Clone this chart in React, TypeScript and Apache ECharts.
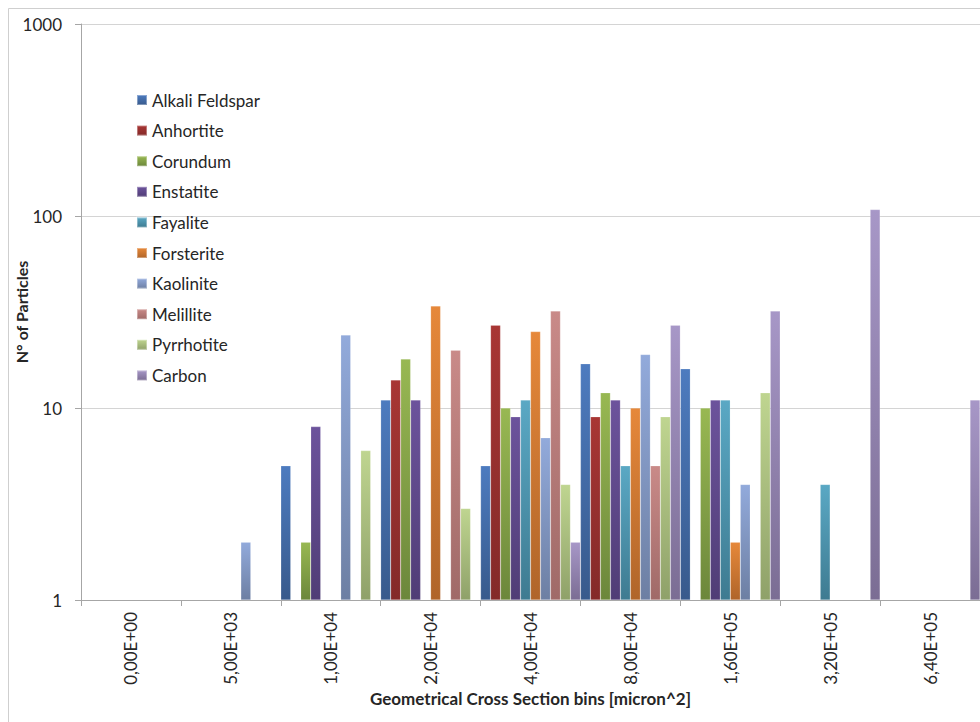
import React, { useEffect, useRef } from "react";
import * as echarts from "echarts";

// Bin labels (geometrical cross section, micron^2)
const categories = [
  "0,00E+00",
  "5,00E+03",
  "1,00E+04",
  "2,00E+04",
  "4,00E+04",
  "8,00E+04",
  "1,60E+05",
  "3,20E+05",
  "6,40E+05",
];

// Particle counts per bin (null = no particles in that bin)
const alkaliFeldspar = [null, null, 5, 11, 5, 17, 16, null, null];
const anhortite = [null, null, null, 14, 27, 9, null, null, null];
const corundum = [null, null, 2, 18, 10, 12, 10, null, null];
const enstatite = [null, null, 8, 11, 9, 11, 11, null, null];
const fayalite = [null, null, null, null, 11, 5, 11, 4, null];
const forsterite = [null, null, null, 34, 25, 10, 2, null, null];
const kaolinite = [null, 2, 24, null, 7, 19, 4, null, null];
const melillite = [null, null, null, 20, 32, 5, null, null, null];
const pyrrhotite = [null, null, 6, 3, 4, 9, 12, null, null];
const carbon = [null, null, null, null, 2, 27, 32, 108, 11];

const yTicks = [1, 10, 100, 1000];

const seriesDefs: { name: string; data: (number | null)[]; top: string; bottom: string }[] = [
  { name: "Alkali Feldspar", data: alkaliFeldspar, top: "#4d7bbf", bottom: "#385a8c" },
  { name: "Anhortite", data: anhortite, top: "#a83634", bottom: "#842a29" },
  { name: "Corundum", data: corundum, top: "#98b852", bottom: "#6c873b" },
  { name: "Enstatite", data: enstatite, top: "#6c539c", bottom: "#503d76" },
  { name: "Fayalite", data: fayalite, top: "#5aa8c4", bottom: "#3e7b91" },
  { name: "Forsterite", data: forsterite, top: "#e6883a", bottom: "#b0652a" },
  { name: "Kaolinite", data: kaolinite, top: "#92aadb", bottom: "#6d7fa3" },
  { name: "Melillite", data: melillite, top: "#c98a88", bottom: "#a06a68" },
  { name: "Pyrrhotite", data: pyrrhotite, top: "#bfd590", bottom: "#8fa169" },
  { name: "Carbon", data: carbon, top: "#a797c7", bottom: "#7b6d94" },
];

const FONT = "Lato, 'Open Sans', sans-serif";
const TEXT = "#262626";

export default function App() {
  const ref = useRef<HTMLDivElement>(null);

  useEffect(() => {
    if (!ref.current) return;
    const chart = echarts.init(ref.current, undefined, { renderer: "svg" });

    const series = seriesDefs.map((s) => ({
      name: s.name,
      type: "bar" as const,
      data: s.data.map((v) => (v == null ? "-" : v)),
      barGap: "0%",
      barCategoryGap: "0%",
      itemStyle: {
        color: new echarts.graphic.LinearGradient(0, 0, 0, 1, [
          { offset: 0, color: s.top },
          { offset: 1, color: s.bottom },
        ]),
        borderColor: "rgba(255,255,255,0.35)",
        borderWidth: 0.5,
      },
    }));

    chart.setOption({
      animation: false,
      backgroundColor: "#ffffff",
      color: seriesDefs.map((s) => s.top),
      textStyle: { fontFamily: FONT },
      graphic: [
        {
          type: "rect",
          shape: { x: 8.5, y: 8.5, width: 2000, height: 2000 },
          style: { fill: "none", stroke: "#cfcfcf", lineWidth: 1 },
          silent: true,
        },
      ],
      legend: {
        orient: "vertical",
        left: 136,
        top: 91,
        padding: 0,
        icon: "rect",
        itemWidth: 10,
        itemHeight: 10,
        itemGap: 12.6,
        textStyle: {
          fontFamily: FONT,
          fontSize: 17,
          lineHeight: 18,
          color: TEXT,
        },
        data: seriesDefs.map((s) => s.name),
      },
      grid: { left: 81, top: 24, right: 0, bottom: 122, outerBoundsMode: "none", containLabel: false },
      xAxis: {
        type: "category",
        data: categories,
        name: "Geometrical Cross Section bins [micron^2]",
        nameLocation: "middle",
        nameGap: 90,
        nameMoveOverlap: false,
        nameTextStyle: { fontFamily: FONT, fontSize: 17, fontWeight: "bold", color: TEXT },
        axisLine: { lineStyle: { color: "#a6a6a6", width: 1 } },
        axisTick: { show: true, alignWithLabel: false, length: 6, lineStyle: { color: "#a6a6a6" } },
        axisLabel: {
          rotate: 90,
          margin: 12,
          fontFamily: FONT,
          fontSize: 17,
          color: TEXT,
          interval: 0,
        },
        splitLine: { show: false },
      },
      yAxis: {
        type: "log",
        logBase: 10,
        min: yTicks[0],
        max: yTicks[yTicks.length - 1],
        name: "N° of Particles",
        nameLocation: "middle",
        nameGap: 51.5,
        nameMoveOverlap: false,
        nameRotate: 90,
        nameTextStyle: { fontFamily: FONT, fontSize: 16, fontWeight: "bold", color: TEXT },
        axisLine: { show: true, lineStyle: { color: "#a6a6a6", width: 1 } },
        axisTick: { show: true, length: 6, lineStyle: { color: "#a6a6a6" } },
        axisLabel: {
          margin: 19,
          fontFamily: FONT,
          fontSize: 17,
          color: TEXT,
          formatter: (v: number) => String(Math.round(v)),
        },
        splitLine: { show: true, lineStyle: { color: "#d4d4d4", width: 1 } },
      },
      series,
    });

    return () => chart.dispose();
  }, []);

  return (
    <div
      ref={ref}
      style={{ position: "fixed", left: 0, top: 0, width: 980, height: 722 }}
    />
  );
}
